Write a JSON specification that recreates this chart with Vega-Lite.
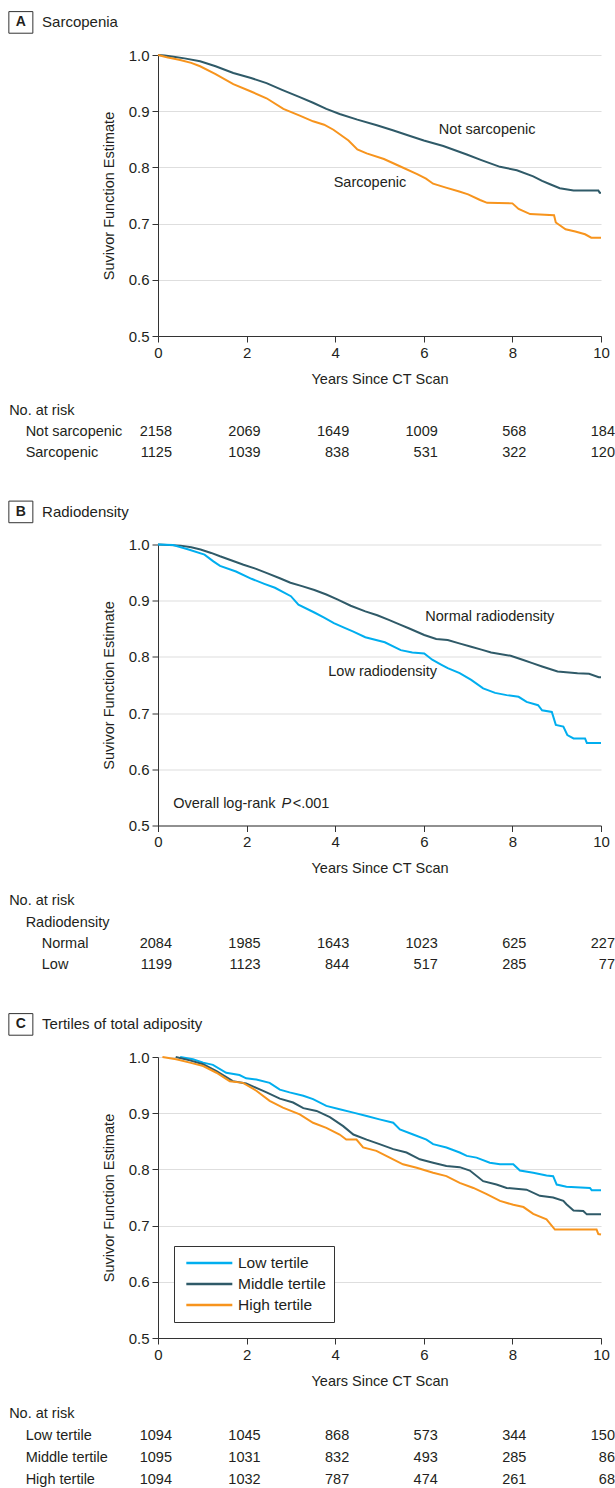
{
"$schema": "https://vega.github.io/schema/vega-lite/v6.json",
"padding": {"left": 6, "top": 9, "right": 0, "bottom": 0},
"spacing": 38.5,
"config": {
  "view": {"stroke": null},
  "font": "Liberation Sans",
  "text": {"fontSize": 14.5, "color": "#231f20", "font": "Liberation Sans"},
  "axis": {"labelFontSize": 15, "titleFontSize": 14.5, "titleFontWeight": "normal", "labelColor": "#231f20", "titleColor": "#231f20", "domainColor": "#333333", "tickColor": "#333333", "tickSize": 6, "gridColor": "#dedede", "gridWidth": 1.2, "labelPadding": 3, "titlePadding": 12, "labelFlush": false},
  "legend": {"labelFontSize": 15.5, "labelColor": "#231f20"}
},
"resolve": {"scale": {"color": "independent"}, "legend": {"color": "independent"}},
"datasets": {
  "kmA": [
    {"group":"Not sarcopenic","t":0,"s":1.0},{"group":"Not sarcopenic","t":0.15,"s":0.999},{"group":"Not sarcopenic","t":0.35,"s":0.997},{"group":"Not sarcopenic","t":0.6,"s":0.994},{"group":"Not sarcopenic","t":0.95,"s":0.989},{"group":"Not sarcopenic","t":1.3,"s":0.980},{"group":"Not sarcopenic","t":1.7,"s":0.968},{"group":"Not sarcopenic","t":2.1,"s":0.959},{"group":"Not sarcopenic","t":2.45,"s":0.950},{"group":"Not sarcopenic","t":2.8,"s":0.938},{"group":"Not sarcopenic","t":3.2,"s":0.925},{"group":"Not sarcopenic","t":3.5,"s":0.915},{"group":"Not sarcopenic","t":3.8,"s":0.904},{"group":"Not sarcopenic","t":4.1,"s":0.895},{"group":"Not sarcopenic","t":4.5,"s":0.885},{"group":"Not sarcopenic","t":4.94,"s":0.875},{"group":"Not sarcopenic","t":5.3,"s":0.866},{"group":"Not sarcopenic","t":5.69,"s":0.856},{"group":"Not sarcopenic","t":6.0,"s":0.848},{"group":"Not sarcopenic","t":6.44,"s":0.838},{"group":"Not sarcopenic","t":6.97,"s":0.823},{"group":"Not sarcopenic","t":7.3,"s":0.813},{"group":"Not sarcopenic","t":7.72,"s":0.801},{"group":"Not sarcopenic","t":8.1,"s":0.795},{"group":"Not sarcopenic","t":8.47,"s":0.784},{"group":"Not sarcopenic","t":8.67,"s":0.776},{"group":"Not sarcopenic","t":8.85,"s":0.770},{"group":"Not sarcopenic","t":9.07,"s":0.763},{"group":"Not sarcopenic","t":9.38,"s":0.759},{"group":"Not sarcopenic","t":9.94,"s":0.759},{"group":"Not sarcopenic","t":9.97,"s":0.755},{"group":"Not sarcopenic","t":10,"s":0.755},
    {"group":"Sarcopenic","t":0,"s":1.0},{"group":"Sarcopenic","t":0.2,"s":0.996},{"group":"Sarcopenic","t":0.5,"s":0.991},{"group":"Sarcopenic","t":0.75,"s":0.986},{"group":"Sarcopenic","t":0.95,"s":0.980},{"group":"Sarcopenic","t":1.3,"s":0.966},{"group":"Sarcopenic","t":1.7,"s":0.948},{"group":"Sarcopenic","t":2.1,"s":0.935},{"group":"Sarcopenic","t":2.45,"s":0.923},{"group":"Sarcopenic","t":2.83,"s":0.904},{"group":"Sarcopenic","t":3.2,"s":0.892},{"group":"Sarcopenic","t":3.5,"s":0.882},{"group":"Sarcopenic","t":3.75,"s":0.876},{"group":"Sarcopenic","t":3.96,"s":0.867},{"group":"Sarcopenic","t":4.3,"s":0.848},{"group":"Sarcopenic","t":4.5,"s":0.832},{"group":"Sarcopenic","t":4.71,"s":0.825},{"group":"Sarcopenic","t":5.1,"s":0.815},{"group":"Sarcopenic","t":5.46,"s":0.802},{"group":"Sarcopenic","t":5.85,"s":0.788},{"group":"Sarcopenic","t":6.05,"s":0.780},{"group":"Sarcopenic","t":6.21,"s":0.771},{"group":"Sarcopenic","t":6.5,"s":0.764},{"group":"Sarcopenic","t":6.8,"s":0.757},{"group":"Sarcopenic","t":7.0,"s":0.752},{"group":"Sarcopenic","t":7.27,"s":0.742},{"group":"Sarcopenic","t":7.43,"s":0.737},{"group":"Sarcopenic","t":8.0,"s":0.736},{"group":"Sarcopenic","t":8.14,"s":0.726},{"group":"Sarcopenic","t":8.4,"s":0.717},{"group":"Sarcopenic","t":8.94,"s":0.715},{"group":"Sarcopenic","t":8.98,"s":0.702},{"group":"Sarcopenic","t":9.2,"s":0.690},{"group":"Sarcopenic","t":9.42,"s":0.686},{"group":"Sarcopenic","t":9.64,"s":0.681},{"group":"Sarcopenic","t":9.78,"s":0.675},{"group":"Sarcopenic","t":10,"s":0.675}
  ],
  "kmB": [
    {"group":"Normal radiodensity","t":0,"s":1.0},{"group":"Normal radiodensity","t":0.51,"s":0.998},{"group":"Normal radiodensity","t":0.75,"s":0.995},{"group":"Normal radiodensity","t":0.96,"s":0.991},{"group":"Normal radiodensity","t":1.2,"s":0.985},{"group":"Normal radiodensity","t":1.4,"s":0.979},{"group":"Normal radiodensity","t":1.65,"s":0.972},{"group":"Normal radiodensity","t":1.93,"s":0.964},{"group":"Normal radiodensity","t":2.2,"s":0.957},{"group":"Normal radiodensity","t":2.46,"s":0.949},{"group":"Normal radiodensity","t":2.75,"s":0.940},{"group":"Normal radiodensity","t":2.99,"s":0.932},{"group":"Normal radiodensity","t":3.25,"s":0.926},{"group":"Normal radiodensity","t":3.53,"s":0.919},{"group":"Normal radiodensity","t":3.8,"s":0.911},{"group":"Normal radiodensity","t":4.06,"s":0.902},{"group":"Normal radiodensity","t":4.35,"s":0.891},{"group":"Normal radiodensity","t":4.68,"s":0.881},{"group":"Normal radiodensity","t":4.95,"s":0.874},{"group":"Normal radiodensity","t":5.21,"s":0.866},{"group":"Normal radiodensity","t":5.45,"s":0.858},{"group":"Normal radiodensity","t":5.66,"s":0.851},{"group":"Normal radiodensity","t":6.01,"s":0.839},{"group":"Normal radiodensity","t":6.28,"s":0.832},{"group":"Normal radiodensity","t":6.54,"s":0.830},{"group":"Normal radiodensity","t":6.8,"s":0.824},{"group":"Normal radiodensity","t":7.07,"s":0.818},{"group":"Normal radiodensity","t":7.3,"s":0.813},{"group":"Normal radiodensity","t":7.52,"s":0.808},{"group":"Normal radiodensity","t":7.96,"s":0.802},{"group":"Normal radiodensity","t":8.23,"s":0.795},{"group":"Normal radiodensity","t":8.45,"s":0.789},{"group":"Normal radiodensity","t":8.67,"s":0.783},{"group":"Normal radiodensity","t":9.02,"s":0.774},{"group":"Normal radiodensity","t":9.47,"s":0.771},{"group":"Normal radiodensity","t":9.73,"s":0.770},{"group":"Normal radiodensity","t":9.95,"s":0.764},{"group":"Normal radiodensity","t":10,"s":0.764},
    {"group":"Low radiodensity","t":0,"s":1.0},{"group":"Low radiodensity","t":0.34,"s":0.999},{"group":"Low radiodensity","t":0.69,"s":0.991},{"group":"Low radiodensity","t":1.05,"s":0.982},{"group":"Low radiodensity","t":1.25,"s":0.970},{"group":"Low radiodensity","t":1.4,"s":0.962},{"group":"Low radiodensity","t":1.76,"s":0.952},{"group":"Low radiodensity","t":2.11,"s":0.939},{"group":"Low radiodensity","t":2.4,"s":0.930},{"group":"Low radiodensity","t":2.64,"s":0.923},{"group":"Low radiodensity","t":3.0,"s":0.908},{"group":"Low radiodensity","t":3.17,"s":0.893},{"group":"Low radiodensity","t":3.53,"s":0.879},{"group":"Low radiodensity","t":3.75,"s":0.870},{"group":"Low radiodensity","t":3.97,"s":0.860},{"group":"Low radiodensity","t":4.2,"s":0.852},{"group":"Low radiodensity","t":4.41,"s":0.845},{"group":"Low radiodensity","t":4.68,"s":0.835},{"group":"Low radiodensity","t":5.12,"s":0.826},{"group":"Low radiodensity","t":5.48,"s":0.812},{"group":"Low radiodensity","t":5.74,"s":0.808},{"group":"Low radiodensity","t":6.01,"s":0.806},{"group":"Low radiodensity","t":6.19,"s":0.795},{"group":"Low radiodensity","t":6.4,"s":0.786},{"group":"Low radiodensity","t":6.54,"s":0.780},{"group":"Low radiodensity","t":6.81,"s":0.771},{"group":"Low radiodensity","t":7.07,"s":0.759},{"group":"Low radiodensity","t":7.34,"s":0.744},{"group":"Low radiodensity","t":7.61,"s":0.736},{"group":"Low radiodensity","t":7.87,"s":0.732},{"group":"Low radiodensity","t":8.14,"s":0.729},{"group":"Low radiodensity","t":8.32,"s":0.720},{"group":"Low radiodensity","t":8.58,"s":0.714},{"group":"Low radiodensity","t":8.67,"s":0.705},{"group":"Low radiodensity","t":8.89,"s":0.702},{"group":"Low radiodensity","t":8.98,"s":0.679},{"group":"Low radiodensity","t":9.15,"s":0.676},{"group":"Low radiodensity","t":9.24,"s":0.661},{"group":"Low radiodensity","t":9.38,"s":0.655},{"group":"Low radiodensity","t":9.64,"s":0.655},{"group":"Low radiodensity","t":9.68,"s":0.647},{"group":"Low radiodensity","t":10,"s":0.647}
  ],
  "kmC": [
    {"group":"Low tertile","t":0.5,"s":1.0},{"group":"Low tertile","t":0.79,"s":0.996},{"group":"Low tertile","t":1.02,"s":0.990},{"group":"Low tertile","t":1.24,"s":0.986},{"group":"Low tertile","t":1.54,"s":0.972},{"group":"Low tertile","t":1.84,"s":0.968},{"group":"Low tertile","t":1.99,"s":0.962},{"group":"Low tertile","t":2.22,"s":0.960},{"group":"Low tertile","t":2.52,"s":0.954},{"group":"Low tertile","t":2.75,"s":0.942},{"group":"Low tertile","t":2.97,"s":0.937},{"group":"Low tertile","t":3.28,"s":0.931},{"group":"Low tertile","t":3.5,"s":0.925},{"group":"Low tertile","t":3.8,"s":0.913},{"group":"Low tertile","t":4.1,"s":0.907},{"group":"Low tertile","t":4.41,"s":0.901},{"group":"Low tertile","t":4.71,"s":0.895},{"group":"Low tertile","t":5.0,"s":0.889},{"group":"Low tertile","t":5.31,"s":0.883},{"group":"Low tertile","t":5.46,"s":0.871},{"group":"Low tertile","t":5.76,"s":0.862},{"group":"Low tertile","t":6.06,"s":0.853},{"group":"Low tertile","t":6.21,"s":0.845},{"group":"Low tertile","t":6.51,"s":0.839},{"group":"Low tertile","t":6.81,"s":0.830},{"group":"Low tertile","t":6.97,"s":0.824},{"group":"Low tertile","t":7.19,"s":0.821},{"group":"Low tertile","t":7.49,"s":0.812},{"group":"Low tertile","t":7.72,"s":0.809},{"group":"Low tertile","t":8.02,"s":0.809},{"group":"Low tertile","t":8.17,"s":0.798},{"group":"Low tertile","t":8.47,"s":0.794},{"group":"Low tertile","t":8.77,"s":0.789},{"group":"Low tertile","t":8.92,"s":0.788},{"group":"Low tertile","t":9.0,"s":0.773},{"group":"Low tertile","t":9.22,"s":0.769},{"group":"Low tertile","t":9.75,"s":0.767},{"group":"Low tertile","t":9.79,"s":0.763},{"group":"Low tertile","t":10,"s":0.763},
    {"group":"Middle tertile","t":0.4,"s":1.0},{"group":"Middle tertile","t":0.72,"s":0.994},{"group":"Middle tertile","t":1.02,"s":0.987},{"group":"Middle tertile","t":1.32,"s":0.975},{"group":"Middle tertile","t":1.69,"s":0.957},{"group":"Middle tertile","t":1.99,"s":0.953},{"group":"Middle tertile","t":2.22,"s":0.945},{"group":"Middle tertile","t":2.45,"s":0.937},{"group":"Middle tertile","t":2.75,"s":0.926},{"group":"Middle tertile","t":3.05,"s":0.919},{"group":"Middle tertile","t":3.28,"s":0.909},{"group":"Middle tertile","t":3.58,"s":0.904},{"group":"Middle tertile","t":3.88,"s":0.893},{"group":"Middle tertile","t":4.18,"s":0.877},{"group":"Middle tertile","t":4.41,"s":0.862},{"group":"Middle tertile","t":4.71,"s":0.853},{"group":"Middle tertile","t":5.0,"s":0.845},{"group":"Middle tertile","t":5.31,"s":0.836},{"group":"Middle tertile","t":5.61,"s":0.830},{"group":"Middle tertile","t":5.91,"s":0.818},{"group":"Middle tertile","t":6.21,"s":0.812},{"group":"Middle tertile","t":6.51,"s":0.806},{"group":"Middle tertile","t":6.81,"s":0.804},{"group":"Middle tertile","t":7.04,"s":0.798},{"group":"Middle tertile","t":7.34,"s":0.779},{"group":"Middle tertile","t":7.64,"s":0.773},{"group":"Middle tertile","t":7.87,"s":0.767},{"group":"Middle tertile","t":8.32,"s":0.764},{"group":"Middle tertile","t":8.62,"s":0.753},{"group":"Middle tertile","t":8.92,"s":0.750},{"group":"Middle tertile","t":9.15,"s":0.744},{"group":"Middle tertile","t":9.22,"s":0.738},{"group":"Middle tertile","t":9.38,"s":0.727},{"group":"Middle tertile","t":9.6,"s":0.726},{"group":"Middle tertile","t":9.68,"s":0.720},{"group":"Middle tertile","t":10,"s":0.720},
    {"group":"High tertile","t":0.1,"s":1.0},{"group":"High tertile","t":0.41,"s":0.996},{"group":"High tertile","t":0.72,"s":0.990},{"group":"High tertile","t":1.02,"s":0.984},{"group":"High tertile","t":1.32,"s":0.972},{"group":"High tertile","t":1.62,"s":0.957},{"group":"High tertile","t":1.92,"s":0.954},{"group":"High tertile","t":2.22,"s":0.940},{"group":"High tertile","t":2.52,"s":0.922},{"group":"High tertile","t":2.82,"s":0.910},{"group":"High tertile","t":3.2,"s":0.898},{"group":"High tertile","t":3.5,"s":0.883},{"group":"High tertile","t":3.8,"s":0.874},{"group":"High tertile","t":4.1,"s":0.862},{"group":"High tertile","t":4.25,"s":0.853},{"group":"High tertile","t":4.48,"s":0.853},{"group":"High tertile","t":4.63,"s":0.839},{"group":"High tertile","t":4.93,"s":0.833},{"group":"High tertile","t":5.23,"s":0.821},{"group":"High tertile","t":5.53,"s":0.809},{"group":"High tertile","t":5.84,"s":0.803},{"group":"High tertile","t":6.21,"s":0.794},{"group":"High tertile","t":6.51,"s":0.788},{"group":"High tertile","t":6.81,"s":0.776},{"group":"High tertile","t":7.12,"s":0.767},{"group":"High tertile","t":7.42,"s":0.756},{"group":"High tertile","t":7.72,"s":0.744},{"group":"High tertile","t":8.02,"s":0.737},{"group":"High tertile","t":8.25,"s":0.733},{"group":"High tertile","t":8.47,"s":0.721},{"group":"High tertile","t":8.77,"s":0.711},{"group":"High tertile","t":8.96,"s":0.693},{"group":"High tertile","t":9.9,"s":0.693},{"group":"High tertile","t":9.94,"s":0.685},{"group":"High tertile","t":10,"s":0.684}
  ],
  "riskA": [
    {"group":"Not sarcopenic","t":0,"n":2158},{"group":"Not sarcopenic","t":2,"n":2069},{"group":"Not sarcopenic","t":4,"n":1649},{"group":"Not sarcopenic","t":6,"n":1009},{"group":"Not sarcopenic","t":8,"n":568},{"group":"Not sarcopenic","t":10,"n":184},
    {"group":"Sarcopenic","t":0,"n":1125},{"group":"Sarcopenic","t":2,"n":1039},{"group":"Sarcopenic","t":4,"n":838},{"group":"Sarcopenic","t":6,"n":531},{"group":"Sarcopenic","t":8,"n":322},{"group":"Sarcopenic","t":10,"n":120}
  ],
  "riskB": [
    {"group":"Normal","t":0,"n":2084},{"group":"Normal","t":2,"n":1985},{"group":"Normal","t":4,"n":1643},{"group":"Normal","t":6,"n":1023},{"group":"Normal","t":8,"n":625},{"group":"Normal","t":10,"n":227},
    {"group":"Low","t":0,"n":1199},{"group":"Low","t":2,"n":1123},{"group":"Low","t":4,"n":844},{"group":"Low","t":6,"n":517},{"group":"Low","t":8,"n":285},{"group":"Low","t":10,"n":77}
  ],
  "riskC": [
    {"group":"Low tertile","t":0,"n":1094},{"group":"Low tertile","t":2,"n":1045},{"group":"Low tertile","t":4,"n":868},{"group":"Low tertile","t":6,"n":573},{"group":"Low tertile","t":8,"n":344},{"group":"Low tertile","t":10,"n":150},
    {"group":"Middle tertile","t":0,"n":1095},{"group":"Middle tertile","t":2,"n":1031},{"group":"Middle tertile","t":4,"n":832},{"group":"Middle tertile","t":6,"n":493},{"group":"Middle tertile","t":8,"n":285},{"group":"Middle tertile","t":10,"n":86},
    {"group":"High tertile","t":0,"n":1094},{"group":"High tertile","t":2,"n":1032},{"group":"High tertile","t":4,"n":787},{"group":"High tertile","t":6,"n":474},{"group":"High tertile","t":8,"n":261},{"group":"High tertile","t":10,"n":68}
  ]
},
"vconcat": [
{
  "width": 443, "height": 281,
  "resolve": {"axis": {"x": "independent", "y": "independent"}},
  "layer": [
    {"data": {"name": "kmA"}, "mark": {"type": "line", "interpolate": "linear", "strokeWidth": 2},
     "encoding": {
       "x": {"field": "t", "type": "quantitative", "scale": {"domain": [0,10], "nice": false, "zero": false}, "axis": {"values": [0,2,4,6,8,10], "format": "d", "title": "Years Since CT Scan", "grid": false}},
       "y": {"field": "s", "type": "quantitative", "scale": {"domain": [0.5,1], "nice": false, "zero": false}, "axis": {"values": [0.5,0.6,0.7,0.8,0.9,1.0], "format": ".1f", "title": "Suvivor Function Estimate", "grid": true}},
       "color": {"field": "group", "type": "nominal", "scale": {"domain": ["Not sarcopenic","Sarcopenic"], "range": ["#2f5a68","#f7941d"]}, "legend": null}}},
    {"data": {"values": [{}]}, "mark": {"type": "point", "shape": "M-1,-0.9H1V0.9H-1Z", "size": 576, "filled": false, "stroke": "#333333", "strokeWidth": 1, "opacity": 1},
     "encoding": {"x": {"datum": -3.096, "type": "quantitative", "scale": {"domain": [0,10], "nice": false, "zero": false}, "axis": null}, "y": {"datum": 1.058, "type": "quantitative", "scale": {"domain": [0.5,1], "nice": false, "zero": false}, "axis": null}}},
    {"data": {"values": [{}]}, "mark": {"type": "text", "align": "center", "baseline": "middle", "fontWeight": "bold", "fontSize": 14},
     "encoding": {"x": {"datum": -3.096, "type": "quantitative", "scale": {"domain": [0,10], "nice": false, "zero": false}, "axis": null}, "y": {"datum": 1.058, "type": "quantitative", "scale": {"domain": [0.5,1], "nice": false, "zero": false}, "axis": null}, "text": {"value": "A"}}},
    {"data": {"values": [{}]}, "mark": {"type": "text", "align": "left", "baseline": "middle", "fontSize": 15},
     "encoding": {"x": {"datum": -2.617, "type": "quantitative", "scale": {"domain": [0,10], "nice": false, "zero": false}, "axis": null}, "y": {"datum": 1.058, "type": "quantitative", "scale": {"domain": [0.5,1], "nice": false, "zero": false}, "axis": null}, "text": {"value": "Sarcopenia"}}},
    {"data": {"values": [{}]}, "mark": {"type": "text", "align": "left", "baseline": "middle"},
     "encoding": {"x": {"datum": 6.34, "type": "quantitative", "scale": {"domain": [0,10], "nice": false, "zero": false}, "axis": null}, "y": {"datum": 0.866, "type": "quantitative", "scale": {"domain": [0.5,1], "nice": false, "zero": false}, "axis": null}, "text": {"value": "Not sarcopenic"}}},
    {"data": {"values": [{}]}, "mark": {"type": "text", "align": "left", "baseline": "middle"},
     "encoding": {"x": {"datum": 3.966, "type": "quantitative", "scale": {"domain": [0,10], "nice": false, "zero": false}, "axis": null}, "y": {"datum": 0.773, "type": "quantitative", "scale": {"domain": [0.5,1], "nice": false, "zero": false}, "axis": null}, "text": {"value": "Sarcopenic"}}},
    {"data": {"values": [{}]}, "mark": {"type": "text", "align": "left", "baseline": "middle"},
     "encoding": {"x": {"datum": -3.36, "type": "quantitative", "scale": {"domain": [0,10], "nice": false, "zero": false}, "axis": null}, "y": {"datum": 0.367, "type": "quantitative", "scale": {"domain": [0.5,1], "nice": false, "zero": false}, "axis": null}, "text": {"value": "No. at risk"}}},
    {"data": {"values": [{}]}, "mark": {"type": "text", "align": "left", "baseline": "middle"},
     "encoding": {"x": {"datum": -2.988, "type": "quantitative", "scale": {"domain": [0,10], "nice": false, "zero": false}, "axis": null}, "y": {"datum": 0.329, "type": "quantitative", "scale": {"domain": [0.5,1], "nice": false, "zero": false}, "axis": null}, "text": {"value": "Not sarcopenic"}}},
    {"data": {"values": [{}]}, "mark": {"type": "text", "align": "left", "baseline": "middle"},
     "encoding": {"x": {"datum": -2.988, "type": "quantitative", "scale": {"domain": [0,10], "nice": false, "zero": false}, "axis": null}, "y": {"datum": 0.291, "type": "quantitative", "scale": {"domain": [0.5,1], "nice": false, "zero": false}, "axis": null}, "text": {"value": "Sarcopenic"}}},
    {"data": {"name": "riskA"}, "transform": [{"filter": {"field": "group", "equal": "Not sarcopenic"}}], "mark": {"type": "text", "align": "right", "baseline": "middle", "dx": 14},
     "encoding": {"x": {"field": "t", "type": "quantitative", "scale": {"domain": [0,10], "nice": false, "zero": false}, "axis": null}, "y": {"datum": 0.329, "type": "quantitative", "scale": {"domain": [0.5,1], "nice": false, "zero": false}, "axis": null}, "text": {"field": "n", "type": "quantitative"}}},
    {"data": {"name": "riskA"}, "transform": [{"filter": {"field": "group", "equal": "Sarcopenic"}}], "mark": {"type": "text", "align": "right", "baseline": "middle", "dx": 14},
     "encoding": {"x": {"field": "t", "type": "quantitative", "scale": {"domain": [0,10], "nice": false, "zero": false}, "axis": null}, "y": {"datum": 0.291, "type": "quantitative", "scale": {"domain": [0.5,1], "nice": false, "zero": false}, "axis": null}, "text": {"field": "n", "type": "quantitative"}}}
  ]
},
{
  "width": 443, "height": 281,
  "resolve": {"axis": {"x": "independent", "y": "independent"}},
  "layer": [
    {"data": {"name": "kmB"}, "mark": {"type": "line", "interpolate": "linear", "strokeWidth": 2},
     "encoding": {
       "x": {"field": "t", "type": "quantitative", "scale": {"domain": [0,10], "nice": false, "zero": false}, "axis": {"values": [0,2,4,6,8,10], "format": "d", "title": "Years Since CT Scan", "grid": false}},
       "y": {"field": "s", "type": "quantitative", "scale": {"domain": [0.5,1], "nice": false, "zero": false}, "axis": {"values": [0.5,0.6,0.7,0.8,0.9,1.0], "format": ".1f", "title": "Suvivor Function Estimate", "grid": true}},
       "color": {"field": "group", "type": "nominal", "scale": {"domain": ["Normal radiodensity","Low radiodensity"], "range": ["#2f5a68","#00aeef"]}, "legend": null}}},
    {"data": {"values": [{}]}, "mark": {"type": "point", "shape": "M-1,-0.9H1V0.9H-1Z", "size": 576, "filled": false, "stroke": "#333333", "strokeWidth": 1, "opacity": 1},
     "encoding": {"x": {"datum": -3.096, "type": "quantitative", "scale": {"domain": [0,10], "nice": false, "zero": false}, "axis": null}, "y": {"datum": 1.058, "type": "quantitative", "scale": {"domain": [0.5,1], "nice": false, "zero": false}, "axis": null}}},
    {"data": {"values": [{}]}, "mark": {"type": "text", "align": "center", "baseline": "middle", "fontWeight": "bold", "fontSize": 14},
     "encoding": {"x": {"datum": -3.096, "type": "quantitative", "scale": {"domain": [0,10], "nice": false, "zero": false}, "axis": null}, "y": {"datum": 1.058, "type": "quantitative", "scale": {"domain": [0.5,1], "nice": false, "zero": false}, "axis": null}, "text": {"value": "B"}}},
    {"data": {"values": [{}]}, "mark": {"type": "text", "align": "left", "baseline": "middle", "fontSize": 15},
     "encoding": {"x": {"datum": -2.617, "type": "quantitative", "scale": {"domain": [0,10], "nice": false, "zero": false}, "axis": null}, "y": {"datum": 1.058, "type": "quantitative", "scale": {"domain": [0.5,1], "nice": false, "zero": false}, "axis": null}, "text": {"value": "Radiodensity"}}},
    {"data": {"values": [{}]}, "mark": {"type": "text", "align": "left", "baseline": "middle"},
     "encoding": {"x": {"datum": 6.034, "type": "quantitative", "scale": {"domain": [0,10], "nice": false, "zero": false}, "axis": null}, "y": {"datum": 0.871, "type": "quantitative", "scale": {"domain": [0.5,1], "nice": false, "zero": false}, "axis": null}, "text": {"value": "Normal radiodensity"}}},
    {"data": {"values": [{}]}, "mark": {"type": "text", "align": "left", "baseline": "middle"},
     "encoding": {"x": {"datum": 3.844, "type": "quantitative", "scale": {"domain": [0,10], "nice": false, "zero": false}, "axis": null}, "y": {"datum": 0.773, "type": "quantitative", "scale": {"domain": [0.5,1], "nice": false, "zero": false}, "axis": null}, "text": {"value": "Low radiodensity"}}},
    {"data": {"values": [{}]}, "mark": {"type": "text", "align": "left", "baseline": "middle"},
     "encoding": {"x": {"datum": 0.343, "type": "quantitative", "scale": {"domain": [0,10], "nice": false, "zero": false}, "axis": null}, "y": {"datum": 0.538, "type": "quantitative", "scale": {"domain": [0.5,1], "nice": false, "zero": false}, "axis": null}, "text": {"value": "Overall log-rank"}}},
    {"data": {"values": [{}]}, "mark": {"type": "text", "align": "left", "baseline": "middle", "fontStyle": "italic"},
     "encoding": {"x": {"datum": 2.79, "type": "quantitative", "scale": {"domain": [0,10], "nice": false, "zero": false}, "axis": null}, "y": {"datum": 0.538, "type": "quantitative", "scale": {"domain": [0.5,1], "nice": false, "zero": false}, "axis": null}, "text": {"value": "P"}}},
    {"data": {"values": [{}]}, "mark": {"type": "text", "align": "left", "baseline": "middle"},
     "encoding": {"x": {"datum": 3.04, "type": "quantitative", "scale": {"domain": [0,10], "nice": false, "zero": false}, "axis": null}, "y": {"datum": 0.538, "type": "quantitative", "scale": {"domain": [0.5,1], "nice": false, "zero": false}, "axis": null}, "text": {"value": "<.001"}}},
    {"data": {"values": [{}]}, "mark": {"type": "text", "align": "left", "baseline": "middle"},
     "encoding": {"x": {"datum": -3.36, "type": "quantitative", "scale": {"domain": [0,10], "nice": false, "zero": false}, "axis": null}, "y": {"datum": 0.366, "type": "quantitative", "scale": {"domain": [0.5,1], "nice": false, "zero": false}, "axis": null}, "text": {"value": "No. at risk"}}},
    {"data": {"values": [{}]}, "mark": {"type": "text", "align": "left", "baseline": "middle"},
     "encoding": {"x": {"datum": -2.988, "type": "quantitative", "scale": {"domain": [0,10], "nice": false, "zero": false}, "axis": null}, "y": {"datum": 0.327, "type": "quantitative", "scale": {"domain": [0.5,1], "nice": false, "zero": false}, "axis": null}, "text": {"value": "Radiodensity"}}},
    {"data": {"values": [{}]}, "mark": {"type": "text", "align": "left", "baseline": "middle"},
     "encoding": {"x": {"datum": -2.624, "type": "quantitative", "scale": {"domain": [0,10], "nice": false, "zero": false}, "axis": null}, "y": {"datum": 0.289, "type": "quantitative", "scale": {"domain": [0.5,1], "nice": false, "zero": false}, "axis": null}, "text": {"value": "Normal"}}},
    {"data": {"values": [{}]}, "mark": {"type": "text", "align": "left", "baseline": "middle"},
     "encoding": {"x": {"datum": -2.624, "type": "quantitative", "scale": {"domain": [0,10], "nice": false, "zero": false}, "axis": null}, "y": {"datum": 0.251, "type": "quantitative", "scale": {"domain": [0.5,1], "nice": false, "zero": false}, "axis": null}, "text": {"value": "Low"}}},
    {"data": {"name": "riskB"}, "transform": [{"filter": {"field": "group", "equal": "Normal"}}], "mark": {"type": "text", "align": "right", "baseline": "middle", "dx": 14},
     "encoding": {"x": {"field": "t", "type": "quantitative", "scale": {"domain": [0,10], "nice": false, "zero": false}, "axis": null}, "y": {"datum": 0.289, "type": "quantitative", "scale": {"domain": [0.5,1], "nice": false, "zero": false}, "axis": null}, "text": {"field": "n", "type": "quantitative"}}},
    {"data": {"name": "riskB"}, "transform": [{"filter": {"field": "group", "equal": "Low"}}], "mark": {"type": "text", "align": "right", "baseline": "middle", "dx": 14},
     "encoding": {"x": {"field": "t", "type": "quantitative", "scale": {"domain": [0,10], "nice": false, "zero": false}, "axis": null}, "y": {"datum": 0.251, "type": "quantitative", "scale": {"domain": [0.5,1], "nice": false, "zero": false}, "axis": null}, "text": {"field": "n", "type": "quantitative"}}}
  ]
},
{
  "width": 443, "height": 281,
  "resolve": {"axis": {"x": "independent", "y": "independent"}},
  "layer": [
    {"data": {"name": "kmC"}, "mark": {"type": "line", "interpolate": "linear", "strokeWidth": 2},
     "encoding": {
       "x": {"field": "t", "type": "quantitative", "scale": {"domain": [0,10], "nice": false, "zero": false}, "axis": {"values": [0,2,4,6,8,10], "format": "d", "title": "Years Since CT Scan", "grid": false}},
       "y": {"field": "s", "type": "quantitative", "scale": {"domain": [0.5,1], "nice": false, "zero": false}, "axis": {"values": [0.5,0.6,0.7,0.8,0.9,1.0], "format": ".1f", "title": "Suvivor Function Estimate", "grid": true}},
       "color": {"field": "group", "type": "nominal", "scale": {"domain": ["Low tertile","Middle tertile","High tertile"], "range": ["#00aeef","#2f5a68","#f7941d"]},
         "legend": {"title": null, "orient": "bottom-left", "offset": 16, "symbolType": "M-0.61,0H5.39", "symbolSize": 235, "symbolStrokeWidth": 2.5, "strokeColor": "#333333", "fillColor": "white", "padding": 8, "labelOffset": 38, "rowPadding": 3, "labelFontSize": 15.5}}}},
    {"data": {"values": [{}]}, "mark": {"type": "point", "shape": "M-1,-0.9H1V0.9H-1Z", "size": 576, "filled": false, "stroke": "#333333", "strokeWidth": 1, "opacity": 1},
     "encoding": {"x": {"datum": -3.096, "type": "quantitative", "scale": {"domain": [0,10], "nice": false, "zero": false}, "axis": null}, "y": {"datum": 1.058, "type": "quantitative", "scale": {"domain": [0.5,1], "nice": false, "zero": false}, "axis": null}}},
    {"data": {"values": [{}]}, "mark": {"type": "text", "align": "center", "baseline": "middle", "fontWeight": "bold", "fontSize": 14},
     "encoding": {"x": {"datum": -3.096, "type": "quantitative", "scale": {"domain": [0,10], "nice": false, "zero": false}, "axis": null}, "y": {"datum": 1.058, "type": "quantitative", "scale": {"domain": [0.5,1], "nice": false, "zero": false}, "axis": null}, "text": {"value": "C"}}},
    {"data": {"values": [{}]}, "mark": {"type": "text", "align": "left", "baseline": "middle", "fontSize": 15},
     "encoding": {"x": {"datum": -2.617, "type": "quantitative", "scale": {"domain": [0,10], "nice": false, "zero": false}, "axis": null}, "y": {"datum": 1.058, "type": "quantitative", "scale": {"domain": [0.5,1], "nice": false, "zero": false}, "axis": null}, "text": {"value": "Tertiles of total adiposity"}}},
    {"data": {"values": [{}]}, "mark": {"type": "text", "align": "left", "baseline": "middle"},
     "encoding": {"x": {"datum": -3.36, "type": "quantitative", "scale": {"domain": [0,10], "nice": false, "zero": false}, "axis": null}, "y": {"datum": 0.364, "type": "quantitative", "scale": {"domain": [0.5,1], "nice": false, "zero": false}, "axis": null}, "text": {"value": "No. at risk"}}},
    {"data": {"values": [{}]}, "mark": {"type": "text", "align": "left", "baseline": "middle"},
     "encoding": {"x": {"datum": -2.988, "type": "quantitative", "scale": {"domain": [0,10], "nice": false, "zero": false}, "axis": null}, "y": {"datum": 0.325, "type": "quantitative", "scale": {"domain": [0.5,1], "nice": false, "zero": false}, "axis": null}, "text": {"value": "Low tertile"}}},
    {"data": {"values": [{}]}, "mark": {"type": "text", "align": "left", "baseline": "middle"},
     "encoding": {"x": {"datum": -2.988, "type": "quantitative", "scale": {"domain": [0,10], "nice": false, "zero": false}, "axis": null}, "y": {"datum": 0.286, "type": "quantitative", "scale": {"domain": [0.5,1], "nice": false, "zero": false}, "axis": null}, "text": {"value": "Middle tertile"}}},
    {"data": {"values": [{}]}, "mark": {"type": "text", "align": "left", "baseline": "middle"},
     "encoding": {"x": {"datum": -2.988, "type": "quantitative", "scale": {"domain": [0,10], "nice": false, "zero": false}, "axis": null}, "y": {"datum": 0.248, "type": "quantitative", "scale": {"domain": [0.5,1], "nice": false, "zero": false}, "axis": null}, "text": {"value": "High tertile"}}},
    {"data": {"name": "riskC"}, "transform": [{"filter": {"field": "group", "equal": "Low tertile"}}], "mark": {"type": "text", "align": "right", "baseline": "middle", "dx": 14},
     "encoding": {"x": {"field": "t", "type": "quantitative", "scale": {"domain": [0,10], "nice": false, "zero": false}, "axis": null}, "y": {"datum": 0.325, "type": "quantitative", "scale": {"domain": [0.5,1], "nice": false, "zero": false}, "axis": null}, "text": {"field": "n", "type": "quantitative"}}},
    {"data": {"name": "riskC"}, "transform": [{"filter": {"field": "group", "equal": "Middle tertile"}}], "mark": {"type": "text", "align": "right", "baseline": "middle", "dx": 14},
     "encoding": {"x": {"field": "t", "type": "quantitative", "scale": {"domain": [0,10], "nice": false, "zero": false}, "axis": null}, "y": {"datum": 0.286, "type": "quantitative", "scale": {"domain": [0.5,1], "nice": false, "zero": false}, "axis": null}, "text": {"field": "n", "type": "quantitative"}}},
    {"data": {"name": "riskC"}, "transform": [{"filter": {"field": "group", "equal": "High tertile"}}], "mark": {"type": "text", "align": "right", "baseline": "middle", "dx": 14},
     "encoding": {"x": {"field": "t", "type": "quantitative", "scale": {"domain": [0,10], "nice": false, "zero": false}, "axis": null}, "y": {"datum": 0.248, "type": "quantitative", "scale": {"domain": [0.5,1], "nice": false, "zero": false}, "axis": null}, "text": {"field": "n", "type": "quantitative"}}}
  ]
}
]
}
